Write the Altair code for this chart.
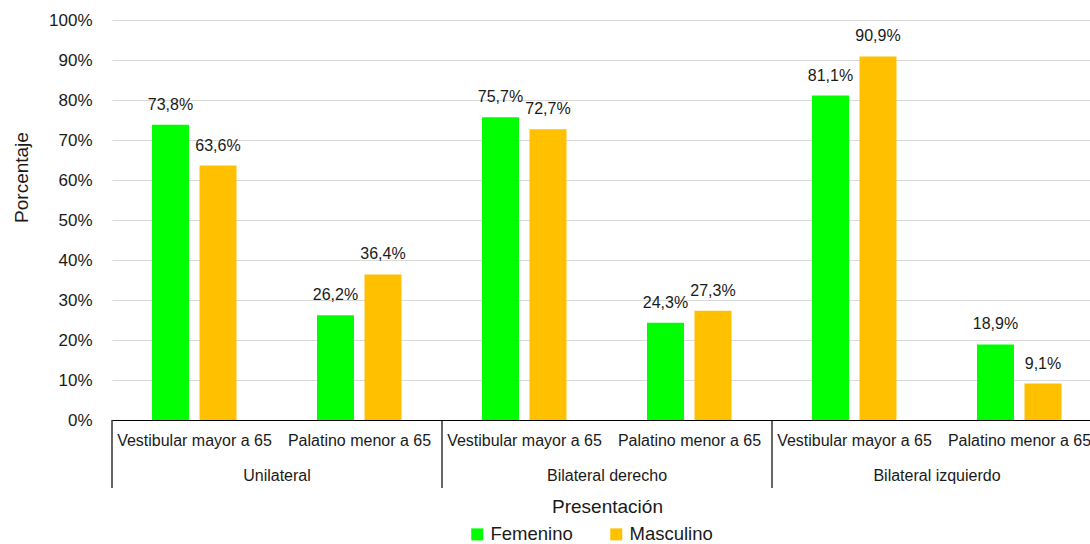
import altair as alt
import pandas as pd

# Chart values
groups = ["Unilateral", "Bilateral derecho", "Bilateral izquierdo"]
subcategories = ["Vestibular mayor a 65", "Palatino menor a 65"]
series = ["Femenino", "Masculino"]
femenino = [73.8, 26.2, 75.7, 24.3, 81.1, 18.9]
masculino = [63.6, 36.4, 72.7, 27.3, 90.9, 9.1]
colors = ["#00FF00", "#FFC000"]
y_ticks = [0, 10, 20, 30, 40, 50, 60, 70, 80, 90, 100]

FONT = "Liberation Sans"
TEXT_COLOR = "#1a1a1a"

PLOT_W = 978      # visible part of the plot area
SLOT_PX = 165     # width of one subcategory slot


def pct_label(v):
    return f"{v:.1f}".replace(".", ",") + "%"


# One row per bar; "pos" is the slot of the subcategory on the x scale
rows = []
n_sub = len(subcategories)
n_slots = len(groups) * n_sub
for s_name, values in zip(series, [femenino, masculino]):
    for i, v in enumerate(values):
        rows.append({
            "grupo": groups[i // n_sub],
            "sub": subcategories[i % n_sub],
            "pos": i + 0.5,
            "serie": s_name,
            "valor": v,
            "etiqueta": pct_label(v),
        })
bars_df = pd.DataFrame(rows)

sub_df = pd.DataFrame({
    "pos": [i + 0.5 for i in range(n_slots)],
    "texto": [subcategories[i % n_sub] for i in range(n_slots)],
})
group_df = pd.DataFrame({
    "pos": [g * n_sub + n_sub / 2 for g in range(len(groups))],
    "texto": groups,
})
sep_df = pd.DataFrame({"pos": [g * n_sub for g in range(len(groups) + 1)]})

# the last group runs past the right edge of the visible plot area
x_scale = alt.Scale(domain=[0, PLOT_W / SLOT_PX], nice=False, zero=False, padding=0)
y_scale = alt.Scale(domain=[0, 100], nice=False, padding=0)
color_scale = alt.Scale(domain=series, range=colors)

x_axis = alt.Axis(
    labels=False, ticks=False, grid=False, domain=True,
    domainColor="#000000", domainWidth=1.2,
    title="Presentación", titleFont=FONT, titleFontSize=19,
    titleFontWeight="normal", titleColor=TEXT_COLOR,
    titleX=495, titleY=86, titleBaseline="middle", titleAlign="center",
)
y_axis = alt.Axis(
    values=y_ticks, labelExpr="datum.value + '%'",
    grid=True, gridColor="#d9d9d9", gridWidth=1.2,
    domain=False, ticks=False, labelPadding=20,
    labelFont=FONT, labelFontSize=17, labelColor=TEXT_COLOR,
    title="Porcentaje", titleFont=FONT, titleFontSize=19,
    titleFontWeight="normal", titleColor=TEXT_COLOR,
    titleAngle=270, titleX=-91, titleY=157,
    titleAlign="center", titleBaseline="middle",
)

legend = alt.Legend(
    title=None, orient="none", legendX=356, legendY=505,
    direction="horizontal", symbolType="square", symbolSize=144,
    symbolStrokeWidth=0, labelFont=FONT, labelFontSize=18.5,
    labelColor=TEXT_COLOR, labelOffset=4, columnPadding=34,
)


def X(field):
    return alt.X(field, scale=x_scale, axis=x_axis)


def Y(field):
    return alt.Y(field, scale=y_scale, axis=y_axis)


offsets = {"Femenino": -24, "Masculino": 23.5}

layers = []
for s_name in series:
    base = alt.Chart(bars_df).transform_filter(alt.datum.serie == s_name)
    bar = base.mark_bar(size=37, xOffset=offsets[s_name]).encode(
        x=X("pos:Q"),
        y=Y("valor:Q"),
        color=alt.Color("serie:N", scale=color_scale, legend=legend),
    )
    txt = base.mark_text(
        xOffset=offsets[s_name], dy=-15, baseline="alphabetic",
        font=FONT, fontSize=16, color=TEXT_COLOR,
    ).encode(
        x=X("pos:Q"),
        y=Y("valor:Q"),
        text="etiqueta:N",
    )
    layers += [bar, txt]

sub_labels = alt.Chart(sub_df).mark_text(
    font=FONT, fontSize=16, color=TEXT_COLOR, baseline="middle"
).encode(
    x=X("pos:Q"),
    y=alt.value(421),
    text="texto:N",
)
group_labels = alt.Chart(group_df).mark_text(
    font=FONT, fontSize=16, color=TEXT_COLOR, baseline="middle"
).encode(
    x=X("pos:Q"),
    y=alt.value(455.5),
    text="texto:N",
)
separators = alt.Chart(sep_df).mark_rule(color="#000000", strokeWidth=1.2).encode(
    x=X("pos:Q"),
    y=alt.value(400),
    y2=alt.value(468),
)

chart = alt.layer(*layers, sub_labels, group_labels, separators).properties(
    width=PLOT_W,
    height=400,
    padding={"left": 112, "top": 20, "right": 0, "bottom": 124},
    autosize=alt.AutoSizeParams(type="none"),
    background="#ffffff",
).configure_view(stroke=None)

chart.save("out.html", embed_options={"renderer": "svg", "actions": False})
